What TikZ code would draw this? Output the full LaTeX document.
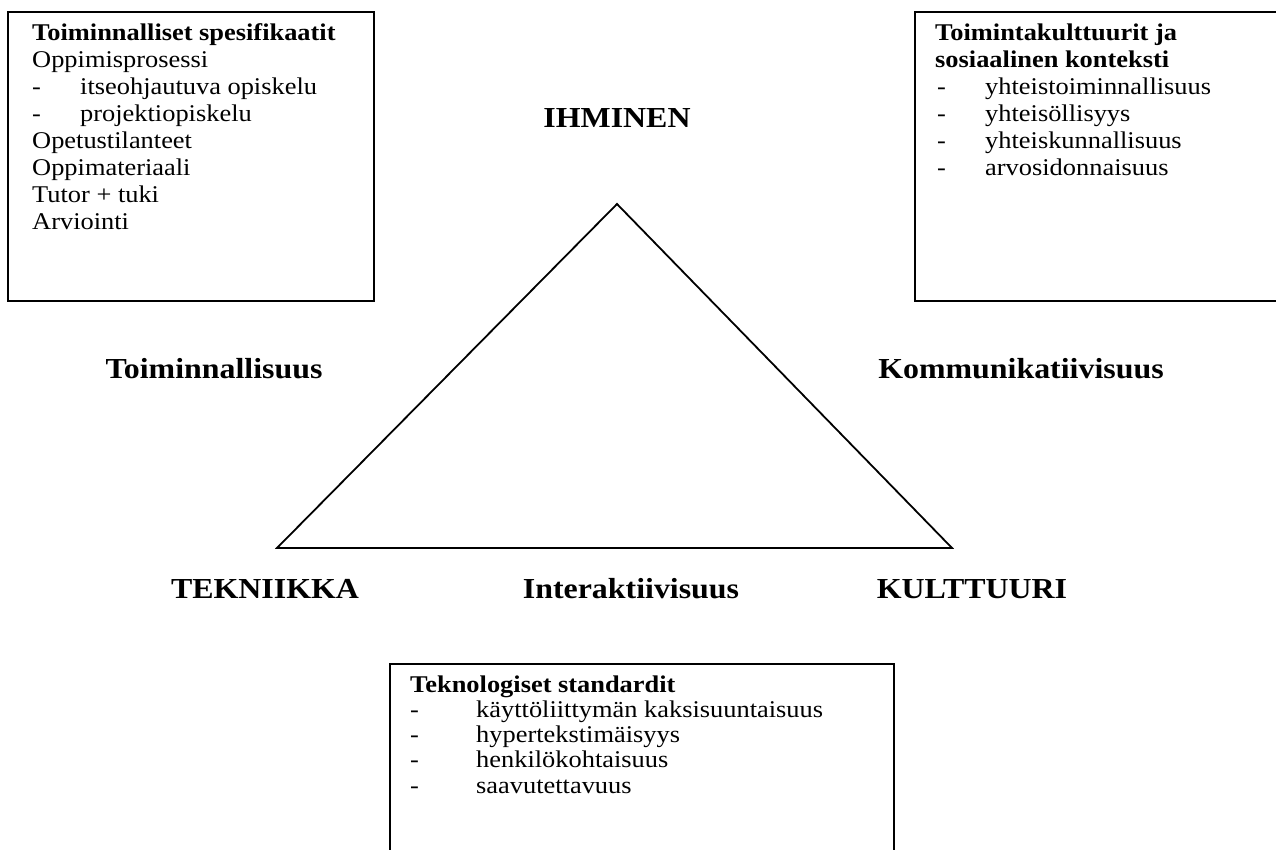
\documentclass[tikz,border=0pt]{standalone}
\usepackage{fontspec}
\setmainfont{Liberation Serif}
\newcommand{\wx}[1]{\scalebox{1.1}[1]{#1}}
\begin{document}
\begin{tikzpicture}[x=1pt,y=-1pt,
  frame/.style={line width=2.4pt, line cap=rect},
  tri/.style={line width=1.8pt, line join=miter},
  lbl/.style={font=\fontsize{29}{29}\selectfont\bfseries, inner sep=0pt, anchor=base},
  txt/.style={font=\fontsize{24}{24}\selectfont, inner sep=0pt, anchor=base west},
  hdr/.style={font=\fontsize{24}{24}\selectfont\bfseries, inner sep=0pt, anchor=base west}]
\useasboundingbox (0,0) rectangle (1276,850);
\fill[white] (0,0) rectangle (1276,850);

% triangle
\coordinate (apex) at (617,204);
\coordinate (bl) at (277,548);
\coordinate (br) at (952,548);
\draw[tri] (apex) -- (br) -- (bl) -- cycle;

% labels
\node[lbl] (ihminen) at (617,128) {\wx{IHMINEN}};
\node[lbl] (toim) at (214,378) {\wx{Toiminnallisuus}};
\node[lbl] (komm) at (1021,378) {\wx{Kommunikatiivisuus}};
\node[lbl] (tekn) at (265,598) {\wx{TEKNIIKKA}};
\node[lbl] (inter) at (631,598) {\wx{Interaktiivisuus}};
\node[lbl] (kult) at (972,598) {\wx{KULTTUURI}};

% left box
\coordinate (lb1) at (8,12);
\coordinate (lb2) at (374,301);
\draw[frame] (lb1) rectangle (lb2);
\node[hdr] (l0) at (32,41) {\wx{Toiminnalliset spesifikaatit}};
\node[txt] (l1) at (32,68) {\wx{Oppimisprosessi}};
\node[txt] (l2d) at (32,95) {\wx{-}};
\node[txt] (l2) at (80,95) {\wx{itseohjautuva opiskelu}};
\node[txt] (l3d) at (32,122) {\wx{-}};
\node[txt] (l3) at (80,122) {\wx{projektiopiskelu}};
\node[txt] (l4) at (32,149) {\wx{Opetustilanteet}};
\node[txt] (l5) at (32,176) {\wx{Oppimateriaali}};
\node[txt] (l6) at (32,203) {\wx{Tutor + tuki}};
\node[txt] (l7) at (32,230) {\wx{Arviointi}};

% right box
\coordinate (rb1) at (1290,12);
\coordinate (rb2) at (915,12);
\coordinate (rb3) at (915,301);
\coordinate (rb4) at (1290,301);
\draw[frame] (rb1) -- (rb2) -- (rb3) -- (rb4);
\node[hdr] (r0) at (935,41) {\wx{Toimintakulttuurit ja}};
\node[hdr] (r1) at (935,68) {\wx{sosiaalinen konteksti}};
\node[txt] (r2d) at (937,95) {\wx{-}};
\node[txt] (r2) at (985,95) {\wx{yhteistoiminnallisuus}};
\node[txt] (r3d) at (937,122) {\wx{-}};
\node[txt] (r3) at (985,122) {\wx{yhteisöllisyys}};
\node[txt] (r4d) at (937,149) {\wx{-}};
\node[txt] (r4) at (985,149) {\wx{yhteiskunnallisuus}};
\node[txt] (r5d) at (937,176) {\wx{-}};
\node[txt] (r5) at (985,176) {\wx{arvosidonnaisuus}};

% bottom box
\coordinate (bb1) at (390,860);
\coordinate (bb2) at (390,664);
\coordinate (bb3) at (894,664);
\coordinate (bb4) at (894,860);
\draw[frame] (bb1) -- (bb2) -- (bb3) -- (bb4);
\node[hdr] (b0) at (410,692) {\wx{Teknologiset standardit}};
\node[txt] (b1d) at (410,717) {\wx{-}};
\node[txt] (b1) at (476,717) {\wx{käyttöliittymän kaksisuuntaisuus}};
\node[txt] (b2d) at (410,742) {\wx{-}};
\node[txt] (b2) at (476,742) {\wx{hypertekstimäisyys}};
\node[txt] (b3d) at (410,767) {\wx{-}};
\node[txt] (b3) at (476,767) {\wx{henkilökohtaisuus}};
\node[txt] (b4d) at (410,793) {\wx{-}};
\node[txt] (b4) at (476,793) {\wx{saavutettavuus}};
\end{tikzpicture}
\end{document}
